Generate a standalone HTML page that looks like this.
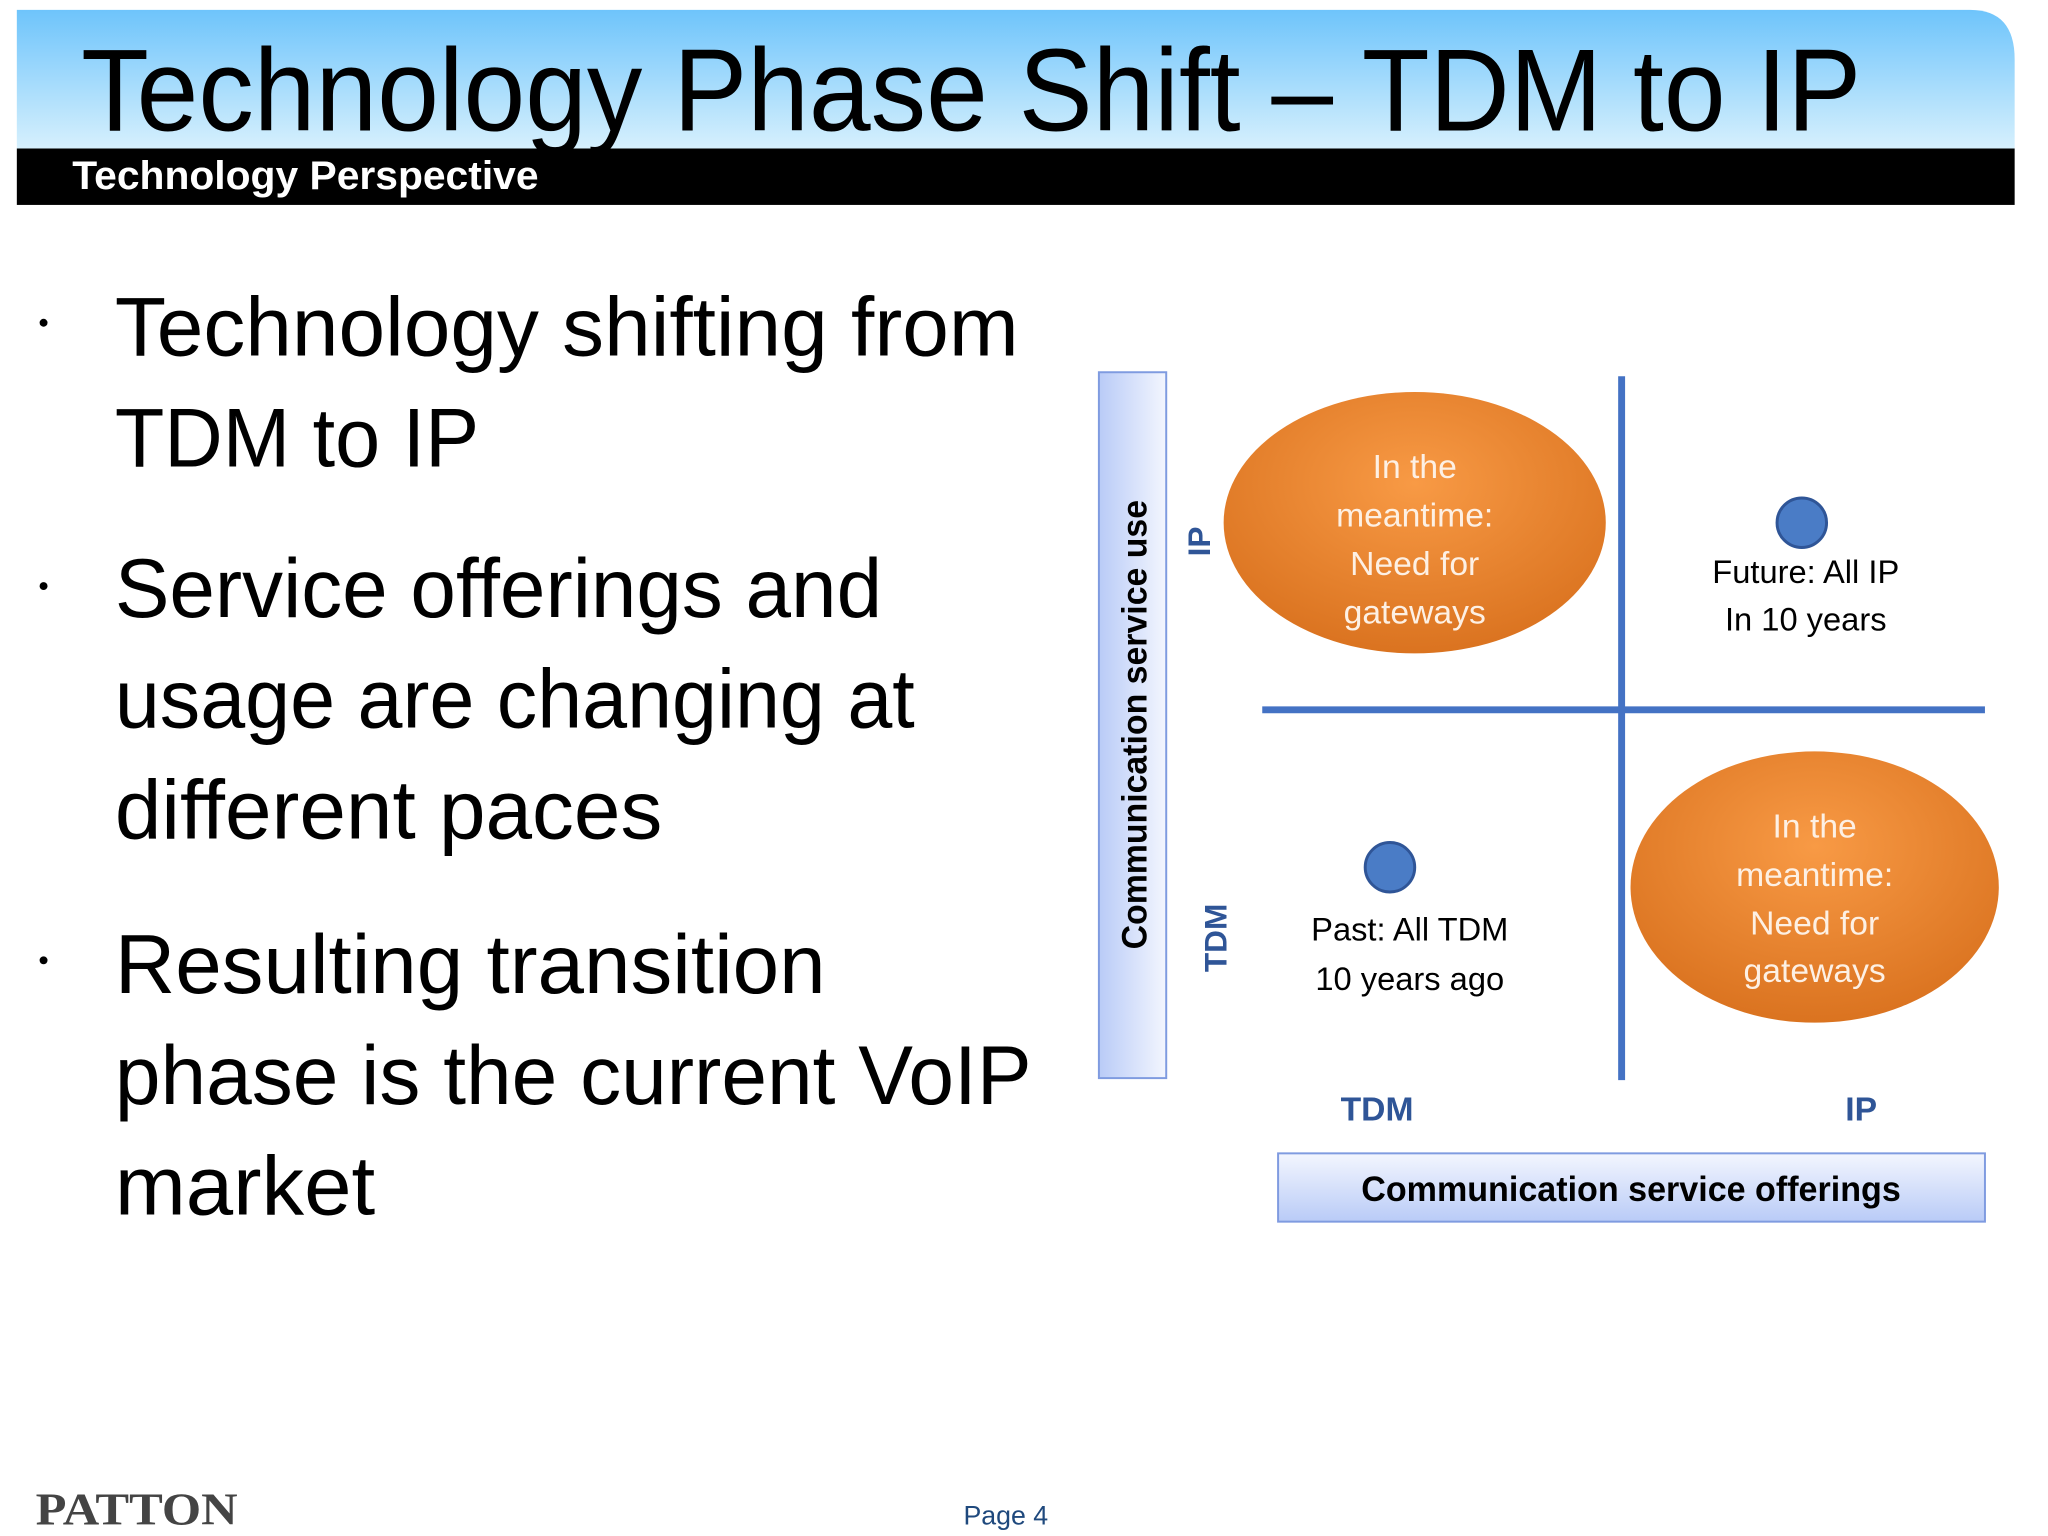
<!DOCTYPE html>
<html><head><meta charset="utf-8"><style>
html,body{margin:0;padding:0;background:#fff;}
svg{display:block;font-family:"Liberation Sans",sans-serif;}
</style></head><body>
<svg width="2048" height="1536" viewBox="0 0 2048 1536">
<defs>
<linearGradient id="hdr" x1="0" y1="0" x2="0" y2="1"><stop offset="0" stop-color="#6ec4fb"/><stop offset="1" stop-color="#d6f0fd"/></linearGradient>
<linearGradient id="box" x1="0" y1="0" x2="1" y2="0"><stop offset="0" stop-color="#b9cbf7"/><stop offset="1" stop-color="#f3f6fe"/></linearGradient>
<linearGradient id="box2" x1="0" y1="0" x2="0" y2="1"><stop offset="0" stop-color="#f3f6fe"/><stop offset="1" stop-color="#b9cbf7"/></linearGradient>
<radialGradient id="org" cx="0.5" cy="0.35" r="0.7"><stop offset="0" stop-color="#f89a45"/><stop offset="1" stop-color="#d8701d"/></radialGradient>
</defs>
<g transform="scale(0.99)">
<path d="M17 10 H1990 Q2035 10 2035 60 V150 H17 Z" fill="url(#hdr)"/>
<rect x="17" y="150" width="2018" height="57" fill="#000"/>
<text x="82" y="132" font-size="118" textLength="1798" lengthAdjust="spacingAndGlyphs" fill="#000">Technology Phase Shift – TDM to IP</text>
<text x="73" y="191" font-size="40" font-weight="bold" textLength="471" lengthAdjust="spacingAndGlyphs" fill="#fff">Technology Perspective</text>

<g font-size="84" fill="#000">
<circle cx="44" cy="326" r="4" fill="#000"/><circle cx="44" cy="592" r="4" fill="#000"/><circle cx="44" cy="970" r="4" fill="#000"/>
<text x="116" y="359" textLength="913" lengthAdjust="spacingAndGlyphs">Technology shifting from</text>
<text x="116" y="471" textLength="368" lengthAdjust="spacingAndGlyphs">TDM to IP</text>
<text x="116" y="623" textLength="775" lengthAdjust="spacingAndGlyphs">Service offerings and</text>
<text x="116" y="735" textLength="808" lengthAdjust="spacingAndGlyphs">usage are changing at</text>
<text x="116" y="847" textLength="553" lengthAdjust="spacingAndGlyphs">different paces</text>
<text x="116" y="1003" textLength="718" lengthAdjust="spacingAndGlyphs">Resulting transition</text>
<text x="116" y="1115" textLength="926" lengthAdjust="spacingAndGlyphs">phase is the current VoIP</text>
<text x="116" y="1227" textLength="263" lengthAdjust="spacingAndGlyphs">market</text>
</g>

<g>
<rect x="1110" y="376" width="68" height="713" fill="url(#box)" stroke="#7f9be0" stroke-width="2"/>
<text transform="translate(1158,959) rotate(-90)" font-size="36" font-weight="bold" textLength="454" lengthAdjust="spacingAndGlyphs">Communication service use</text>
<text transform="translate(1222,562) rotate(-90)" font-size="32" font-weight="bold" fill="#2f5597">IP</text>
<text transform="translate(1239,982) rotate(-90)" font-size="32" font-weight="bold" fill="#2f5597">TDM</text>
<line x1="1638" y1="380" x2="1638" y2="1091" stroke="#4472c4" stroke-width="7"/>
<line x1="1275" y1="717" x2="2005" y2="717" stroke="#4472c4" stroke-width="7"/>
<g>
<ellipse cx="1429" cy="528" rx="193" ry="132" fill="url(#org)"/>
<g fill="#fdf0e4" font-size="34" text-anchor="middle"><text x="1429" y="483">In the</text><text x="1429" y="532">meantime:</text><text x="1429" y="581">Need for</text><text x="1429" y="630">gateways</text></g>
</g>
<g>
<ellipse cx="1833" cy="896" rx="186" ry="137" fill="url(#org)"/>
<g fill="#fdf0e4" font-size="34" text-anchor="middle"><text x="1833" y="846">In the</text><text x="1833" y="895">meantime:</text><text x="1833" y="944">Need for</text><text x="1833" y="992">gateways</text></g>
</g>
<circle cx="1820" cy="528" r="25" fill="#4a7cc6" stroke="#2f5597" stroke-width="3"/>
<g font-size="33" text-anchor="middle"><text x="1824" y="589">Future: All IP</text><text x="1824" y="637">In 10 years</text></g>
<circle cx="1404" cy="876" r="25" fill="#4a7cc6" stroke="#2f5597" stroke-width="3"/>
<g font-size="33" text-anchor="middle"><text x="1424" y="950">Past: All TDM</text><text x="1424" y="1000">10 years ago</text></g>
<text x="1391" y="1132" font-size="34" font-weight="bold" fill="#2f5597" text-anchor="middle">TDM</text>
<text x="1880" y="1132" font-size="34" font-weight="bold" fill="#2f5597" text-anchor="middle">IP</text>
<rect x="1291" y="1165" width="714" height="69" fill="url(#box2)" stroke="#7f9be0" stroke-width="2"/>
<text x="1375" y="1213" font-size="36" font-weight="bold" textLength="545" lengthAdjust="spacingAndGlyphs">Communication service offerings</text>
</g>

<text x="36" y="1540" font-size="46" font-weight="bold" fill="#444" textLength="204" lengthAdjust="spacingAndGlyphs" font-family="Liberation Serif, serif">PATTON</text>
<text x="1016" y="1540" font-size="27" fill="#1f497d" text-anchor="middle">Page 4</text>
</g>
</svg>
</body></html>
